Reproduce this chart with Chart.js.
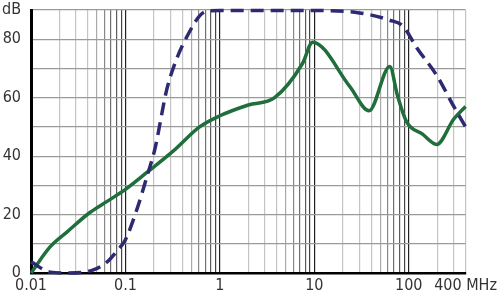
<!DOCTYPE html>
<html>
<head>
<meta charset="utf-8">
<script src="https://cdn.jsdelivr.net/npm/chart.js@4"></script>
<style>
  html, body { margin: 0; padding: 0; background: #fff; }
  #wrap { width: 500px; height: 299px; }
</style>
</head>
<body>
<div id="wrap"><canvas id="chart"></canvas></div>
<script>
// frequency (MHz) and attenuation (dB)
const freqSolid = [0.01, 0.016, 0.024, 0.042, 0.064, 0.1, 0.17, 0.32, 0.61, 1, 2, 3.8, 7.5, 9.6, 23.8, 38, 63, 76, 95, 140, 198, 300, 400];
const dbSolid = [0, 9, 14, 20.7, 24.5, 28.6, 34.5, 41.7, 50, 53.8, 57.5, 60, 71.7, 79, 63.8, 55.5, 70.7, 60.7, 51.7, 47.5, 44, 52.7, 57];

const freqDashed = [0.01, 0.016, 0.025, 0.045, 0.064, 0.083, 0.1, 0.132, 0.169, 0.205, 0.275, 0.35, 0.45, 0.61, 0.73, 1, 10, 30, 63, 86.5, 122, 198, 300, 400];
const dbDashed = [3.8, 0.3, 0, 1, 3.8, 7.9, 11.4, 21.7, 33, 42.4, 63, 73.4, 81, 88, 89.6, 89.8, 89.8, 89, 86.5, 84.5, 77, 67.6, 57, 50];

const xLabels = [0.01, 0.1, 1, 10, 100, 400];
const yLabels = [0, 20, 40, 60, 80];

function pts(xs, ys) {
    return xs.map((x, i) => ({ x: x, y: ys[i] }));
}

function mantissa(v) {
    return Math.round(v / Math.pow(10, Math.floor(Math.log10(v) + 1e-9)));
}

// minor lines get darker towards the next decade, like the original
function xGridColor(ctx) {
    if (!ctx.tick) return '#bbb';
    const m = mantissa(ctx.tick.value);
    if (m === 1) return '#222';
    if (m === 9) return '#444';
    if (m === 8) return '#5c5c5c';
    if (m === 7) return '#707070';
    if (m === 6) return '#888';
    if (m === 5) return '#aaa';
    return '#c4c4c4';
}

const font = { family: "'DejaVu Sans Condensed', 'DejaVu Sans', sans-serif", size: 16 };

new Chart(document.getElementById('chart').getContext('2d'), {
    type: 'line',
    data: {
        datasets: [{
            data: pts(freqDashed, dbDashed),
            borderColor: '#2e2a72',
            borderWidth: 3.5,
            borderDash: [13, 7],
            pointRadius: 0,
            cubicInterpolationMode: 'monotone',
            fill: false,
            clip: false
        }, {
            data: pts(freqSolid, dbSolid),
            borderColor: '#1f6e3c',
            borderWidth: 3.5,
            pointRadius: 0,
            cubicInterpolationMode: 'monotone',
            fill: false,
            clip: false
        }]
    },
    options: {
        responsive: true,
        maintainAspectRatio: false,
        animation: false,
        layout: { padding: { left: 0, right: 32, top: 10, bottom: 0 } },
        plugins: {
            legend: { display: false },
            tooltip: { enabled: false }
        },
        scales: {
            x: {
                type: 'logarithmic',
                min: 0.01,
                max: 400,
                afterBuildTicks: function(scale) {
                    const list = [];
                    for (let d = 0.01; d < 400; d *= 10) {
                        for (let m = 1; m <= 9; m++) {
                            const v = +(m * d).toPrecision(3);
                            if (v <= 400) list.push({ value: v });
                        }
                    }
                    scale.ticks = list;
                },
                afterFit: function(scale) { scale.height = 26; },
                ticks: {
                    autoSkip: false,
                    maxRotation: 0,
                    padding: 3,
                    color: '#333',
                    font: font,
                    callback: function(v) {
                        if (!xLabels.includes(v)) return '';
                        return v === 400 ? '400 MHz' : String(v);
                    }
                },
                grid: { color: xGridColor, lineWidth: 1.2, drawTicks: false },
                border: { color: '#000', width: 2.5 }
            },
            y: {
                min: 0,
                max: 90,
                afterFit: function(scale) {
                    scale.width = 31;
                    scale.paddingTop = 0;
                    scale.paddingBottom = 0;
                },
                ticks: {
                    stepSize: 10,
                    padding: 10,
                    color: '#333',
                    font: font,
                    callback: function(v) {
                        if (v === 90) return 'dB';
                        return yLabels.includes(v) ? String(v) : '';
                    }
                },
                grid: { color: '#9a9a9a', lineWidth: 1.2, drawTicks: false },
                border: { color: '#000', width: 3 }
            }
        }
    }
});
</script>
</body>
</html>
